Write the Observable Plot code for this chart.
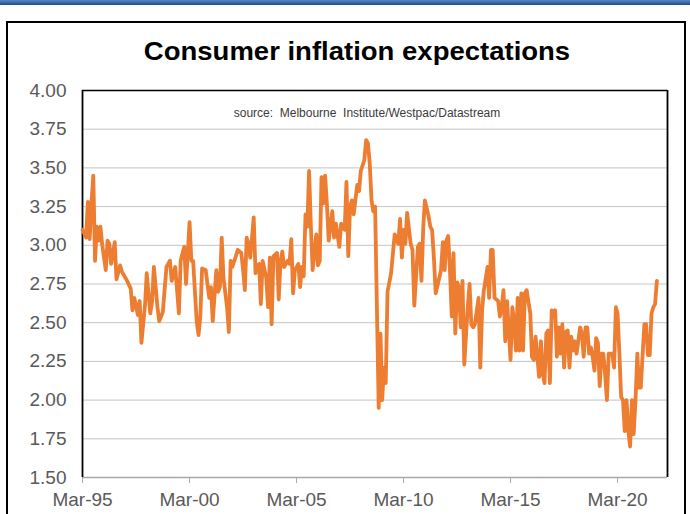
<!DOCTYPE html>
<html>
<head>
<meta charset="utf-8">
<script src="https://cdn.jsdelivr.net/npm/d3@7"></script>
<script src="https://cdn.jsdelivr.net/npm/@observablehq/plot@0.6"></script>
<style>
  html, body { margin: 0; padding: 0; background: #fff; }
  body { width: 690px; height: 514px; position: relative; overflow: hidden; font-family: "Liberation Sans", Arial, sans-serif; }
  #topbar { position: absolute; left: 0; top: 0; width: 690px; height: 5px; background: linear-gradient(#5d86c2, #1b4b8c); }
  #outer { position: absolute; left: 6px; top: 21px; width: 680px; height: 520px; border: 2px solid #000; box-sizing: border-box; }
  #title { position: absolute; left: 0; top: 37px; width: 714px; text-align: center; font-weight: bold; font-size: 25px; color: #000; transform: scaleX(1.1); transform-origin: 357px 0; white-space: nowrap; }
  #chart { position: absolute; left: 0; top: 0; }
</style>
</head>
<body>
<div id="topbar"></div>
<div id="outer"></div>
<div id="title">Consumer inflation expectations</div>
<div id="chart"></div>
<script>
// Data (monthly survey, trimmed mean, %)
const months = [
"1995-03","1995-05","1995-06","1995-07","1995-08","1995-09","1995-10","1995-11","1995-12",
"1996-01","1996-02","1996-04","1996-05","1996-06","1996-07","1996-09","1996-10","1996-12",
"1997-01","1997-04","1997-06","1997-07","1997-08","1997-10","1997-11","1997-12",
"1998-02","1998-03","1998-05","1998-06","1998-07","1998-09","1998-10","1998-12",
"1999-02","1999-04","1999-05","1999-07","1999-09","1999-10","1999-12",
"2000-01","2000-03","2000-04","2000-05","2000-07","2000-08","2000-09","2000-10","2000-12",
"2001-02","2001-03","2001-04","2001-06","2001-07","2001-08","2001-09","2001-10","2001-12",
"2002-01","2002-02","2002-03","2002-05","2002-06","2002-08","2002-09","2002-10","2002-11","2002-12",
"2003-01","2003-03","2003-04","2003-06","2003-07","2003-08","2003-10","2003-11","2003-12",
"2004-01","2004-02","2004-04","2004-05","2004-06","2004-07","2004-08","2004-10","2004-11","2004-12",
"2005-01","2005-02","2005-04","2005-05","2005-06","2005-07","2005-08","2005-09","2005-10","2005-11","2005-12",
"2006-02","2006-03","2006-04","2006-05","2006-06","2006-07","2006-08","2006-09","2006-11","2006-12",
"2007-01","2007-03","2007-04","2007-06","2007-07","2007-08","2007-09","2007-10","2007-11",
"2008-01","2008-02","2008-03","2008-05","2008-06","2008-07","2008-08","2008-09","2008-10","2008-11",
"2009-01","2009-02","2009-03","2009-04","2009-05","2009-06","2009-08","2009-10","2009-12",
"2010-01","2010-02","2010-03","2010-04","2010-05","2010-07","2010-08","2010-09","2010-11","2010-12",
"2011-01","2011-02","2011-03","2011-05","2011-06","2011-07","2011-08","2011-09","2011-11","2011-12",
"2012-01","2012-02","2012-03","2012-04","2012-05","2012-06","2012-07","2012-08","2012-09","2012-10","2012-11","2012-12",
"2013-01","2013-02","2013-03","2013-04","2013-05","2013-06","2013-07","2013-09","2013-10","2013-11","2013-12",
"2014-02","2014-03","2014-04","2014-05","2014-06","2014-08","2014-09","2014-10","2014-11","2014-12",
"2015-01","2015-03","2015-04","2015-05","2015-06","2015-07","2015-08","2015-09","2015-10","2015-11","2015-12",
"2016-02","2016-03","2016-04","2016-05","2016-07","2016-08","2016-09","2016-10","2016-11","2016-12",
"2017-01","2017-02","2017-03","2017-04","2017-05","2017-06","2017-07","2017-08","2017-09","2017-10","2017-11","2017-12",
"2018-01","2018-02","2018-03","2018-04","2018-06","2018-07","2018-08","2018-09","2018-10","2018-11","2018-12",
"2019-01","2019-02","2019-03","2019-04","2019-05","2019-06","2019-07","2019-08","2019-09","2019-10","2019-11","2019-12",
"2020-01","2020-02","2020-03","2020-04","2020-05","2020-06","2020-07","2020-08","2020-09","2020-10","2020-11","2020-12",
"2021-01","2021-02","2021-03","2021-04","2021-06","2021-07","2021-08","2021-09","2021-10","2021-11","2021-12",
"2022-01"
];
const values = [
3.10,3.05,3.28,3.04,3.27,3.45,2.90,3.12,3.03,
3.12,3.00,2.84,3.03,3.01,2.88,3.02,2.78,2.87,
2.83,2.77,2.72,2.58,2.66,2.55,2.64,2.37,
2.62,2.82,2.56,2.64,2.86,2.60,2.51,2.57,
2.86,2.90,2.77,2.86,2.56,2.90,2.99,
2.75,3.15,2.90,2.90,2.51,2.42,2.54,2.85,2.84,
2.66,2.73,2.51,2.84,2.70,2.73,3.05,2.79,2.60,
2.44,2.90,2.86,2.93,2.97,2.95,2.84,2.71,3.05,3.01,
2.92,3.18,2.82,2.88,2.62,2.90,2.79,2.60,2.92,
2.49,2.93,2.95,2.65,2.90,2.96,2.86,2.90,2.88,3.04,
2.69,2.84,2.88,2.73,2.86,2.80,3.20,3.12,3.48,3.12,2.84,
3.07,2.87,2.90,3.44,3.27,3.45,3.27,3.03,3.22,3.05,
3.14,2.99,3.14,3.10,3.41,2.93,3.25,3.29,3.20,
3.39,3.35,3.48,3.55,3.68,3.66,3.53,3.29,3.22,3.25,
1.95,2.43,2.00,2.21,2.11,2.70,2.82,3.07,3.01,
3.17,2.92,3.10,3.01,3.21,3.01,2.97,2.61,2.99,3.01,
2.77,3.12,3.29,3.19,3.12,3.10,2.92,2.69,2.79,2.84,
3.02,2.84,3.03,3.06,2.84,2.54,2.95,2.43,2.76,2.73,2.47,2.77,
2.23,2.43,2.60,2.75,2.49,2.47,2.49,2.66,2.21,2.58,2.71,
2.86,2.66,2.97,2.97,2.66,2.64,2.54,2.60,2.71,2.38,
2.64,2.26,2.60,2.51,2.32,2.66,2.32,2.69,2.32,2.69,2.71,
2.56,2.28,2.26,2.41,2.15,2.38,2.17,2.11,2.43,2.45,
2.11,2.58,2.54,2.58,2.28,2.47,2.30,2.49,2.21,2.44,2.45,2.21,
2.41,2.32,2.38,2.30,2.47,2.43,2.28,2.47,2.47,2.30,2.34,
2.28,2.19,2.40,2.37,2.09,2.30,2.30,2.17,2.00,2.30,2.30,2.30,
2.21,2.60,2.56,2.30,2.02,2.00,1.80,2.00,1.80,1.70,2.00,1.78,
2.00,2.30,2.08,2.08,2.49,2.49,2.29,2.29,2.56,2.60,2.62,
2.77
];
const xTickMonths = ["1995-03","2000-03","2005-03","2010-03","2015-03","2020-03"];
const xTickLabels = ["Mar-95","Mar-00","Mar-05","Mar-10","Mar-15","Mar-20"];
const yTicks = [1.50,1.75,2.00,2.25,2.50,2.75,3.00,3.25,3.50,3.75,4.00];
const xDomainMonths = ["1995-03","2022-07"];
const sourceText = "source:\u00a0\u00a0Melbourne\u00a0\u00a0Institute/Westpac/Datastream";

const parse = d3.utcParse("%Y-%m");
const data = months.map((m, i) => ({date: parse(m), value: values[i]}));
const xTicks = xTickMonths.map(parse);
const xDomain = xDomainMonths.map(parse);
const labelFor = d => xTickLabels[xTicks.findIndex(t => +t === +d)];

const chart = Plot.plot({
  width: 690,
  height: 514,
  marginLeft: 82,
  marginRight: 23,
  marginTop: 90,
  marginBottom: 37,
  style: {fontFamily: "'Liberation Sans', Arial, sans-serif", fontSize: "19px", color: "#595959", background: "transparent", overflow: "visible"},
  x: {type: "utc", domain: xDomain},
  y: {domain: [1.5, 4.0]},
  marks: [
    Plot.gridY(yTicks, {stroke: "#c4c4c4", strokeOpacity: 1, strokeWidth: 1}),
    Plot.ruleY([1.5], {stroke: "#a8a8a8", strokeWidth: 1.5}),
    Plot.ruleY([4.0], {stroke: "#000", strokeWidth: 1.5}),
    Plot.ruleX(xDomain, {stroke: "#000", strokeWidth: 1.8}),
    Plot.axisY({ticks: yTicks, tickSize: 0, tickPadding: 16, tickFormat: d3.format(".2f"), fill: "#595959", label: null}),
    Plot.axisX({ticks: xTicks, tickSize: 6, tickPadding: 9, stroke: "#a8a8a8", fill: "#595959", tickFormat: labelFor, label: null}),
    Plot.text([sourceText], {frameAnchor: "top", dx: -8, dy: 18, fontSize: 12, fill: "#3a3a3a"}),
    Plot.lineY(data, {x: "date", y: "value", stroke: "#ED7D31", strokeWidth: 3.8, strokeLinejoin: "round", strokeLinecap: "round"})
  ]
});
document.getElementById("chart").appendChild(chart);
</script>
</body>
</html>
